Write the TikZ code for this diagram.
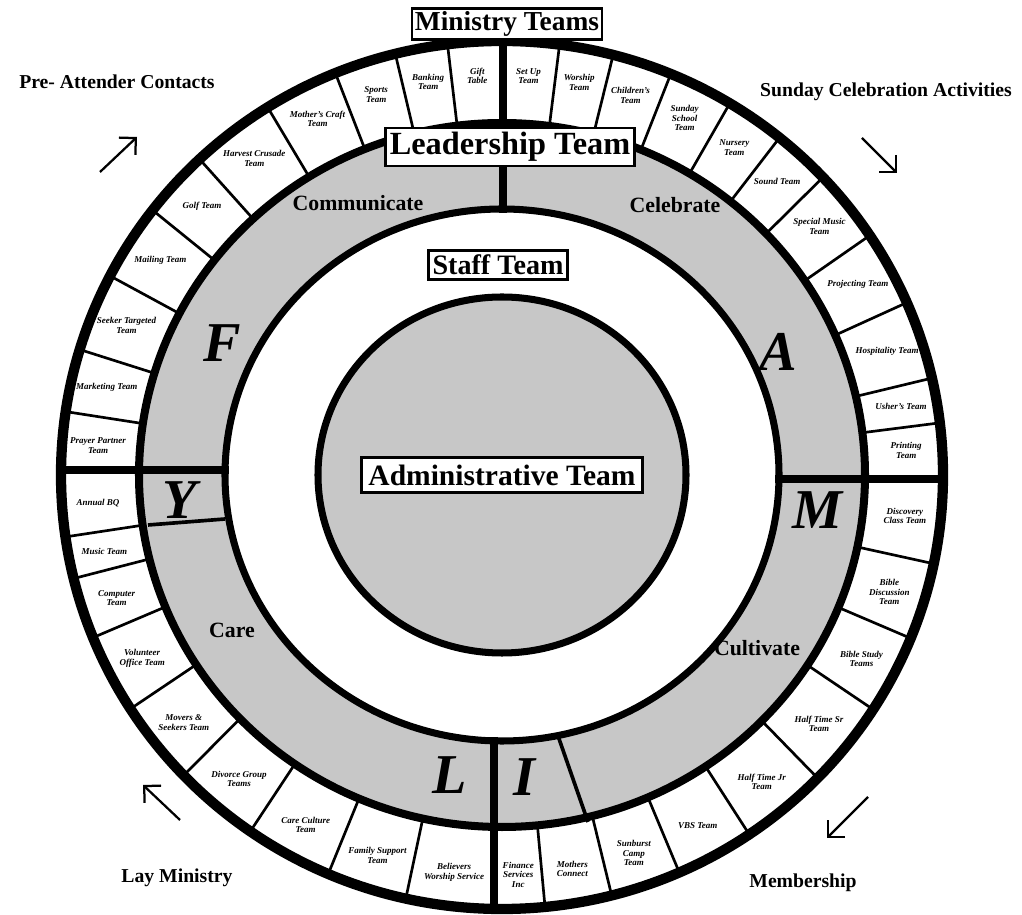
\documentclass[tikz,border=0pt]{standalone}
\usepackage{fontspec}
\setmainfont{Liberation Serif}
\usetikzlibrary{arrows.meta}

\begin{document}
\begin{tikzpicture}[x=0.025cm,y=0.025cm,
  cell/.style={line width=1.9pt},
  divider/.style={line width=5pt},
  teamlbl/.style={font=\fontsize{6.4}{6.8}\selectfont\bfseries\itshape,align=center,inner sep=0pt},
  titlebox/.style={draw,fill=white,line width=1.8pt,inner sep=2pt},
  quad/.style={font=\fontsize{15.5}{15.5}\selectfont\bfseries},
  bigletter/.style={font=\fontsize{40}{40}\selectfont\bfseries\itshape},
  corner/.style={font=\fontsize{14}{14}\selectfont\bfseries},
  cornerarrow/.style={line width=1.6pt,-{Straight Barb[angle=90:12pt]}}]
\def\cx{502}\def\cy{440}
\useasboundingbox (0,0) rectangle (1022,915);
% shaded rings
\fill[black!22] (\cx,\cy) ellipse [x radius=363,y radius=352];
\fill[white] (\cx,\cy) ellipse [x radius=277,y radius=266];
\fill[black!22] (\cx,\cy) ellipse [x radius=184,y radius=178];
% team cells
\foreach \a in {82.5,75.4,67.5,58.9,51,43.3,33.5,23.4,12.9,6.9,
  -11.8,-22.1,-32.7,-44.3,-55.9,-66.3,-75.6,-84.4,
  -102.6,-113.2,-124.8,-136.2,-147.4,-158,-166.2,-171.8,
  171.6,163.2,152.7,142.4,133.3,122.1,112.2,104,97.1}
  \draw[cell] ({\cx+363*cos(\a)},{\cy+352*sin(\a)}) -- ({\cx+441*cos(\a)},{\cy+434*sin(\a)});
% main dividers
\draw[divider] (\cx+1,\cy+262) -- (\cx+1,\cy+436);
\draw[divider] (\cx-8,\cy-262) -- (\cx-8,\cy-436);
\draw[divider] (\cx-443,\cy+5) -- (\cx-273,\cy+5);
\draw[divider] (\cx+273,\cy-4) -- (\cx+443,\cy-4);
\draw[cell,line width=2.6pt] (148,390) -- (225,396);
\draw[cell,line width=2.6pt] (557,182) -- (588,93);
% rings
\draw[line width=7.3pt] (\cx,\cy) ellipse [x radius=441,y radius=434];
\draw[line width=5.7pt] (\cx,\cy) ellipse [x radius=363,y radius=352];
\draw[line width=5pt] (\cx,\cy) ellipse [x radius=277,y radius=266];
\draw[line width=5pt] (\cx,\cy) ellipse [x radius=184,y radius=178];
% team labels
\foreach \a/\t [count=\i] in {86.25/{Set Up\\Team},79/{Worship\\Team},71.5/{Children's\\Team},
  63.2/{Sunday\\School\\Team},55/{Nursery\\Team},47.2/{Sound Team},38.4/{Special Music\\Team},
  28.5/{Projecting Team},18/{Hospitality Team},9.9/{Usher's Team},3.5/{Printing\\Team},
  -5.9/{Discovery\\Class Team},-17/{Bible\\Discussion\\Team},-27.4/{Bible Study\\Teams},
  -38.5/{Half Time Sr\\Team},-50.1/{Half Time Jr\\Team},-61.1/{VBS Team},
  -71/{Sunburst\\Camp\\Team},-80/{Mothers\\Connect},-87.7/{Finance\\Services\\Inc},
  -96.8/{Believers\\Worship Service},-107.9/{Family Support\\Team},-119/{Care Culture\\Team},
  -130.5/{Divorce Group\\Teams},-141.8/{Movers \&\\Seekers Team},-152.7/{Volunteer\\Office Team},
  -162.1/{Computer\\Team},-169/{Music Team},-175.9/{Annual BQ},
  175.8/{Prayer Partner\\Team},167.4/{Marketing Team},158/{Seeker Targeted\\Team},
  147.5/{Mailing Team},137.8/{Golf Team},127.7/{Harvest Crusade\\Team},
  117.1/{Mother's Craft\\Team},108.1/{Sports\\Team},100.5/{Banking\\Team},93.5/{Gift\\Table}}
  \node[teamlbl] (team\i) at ({\cx+405*cos(\a)},{\cy+400*sin(\a)}) {\t};
% titles
\node[titlebox,font=\fontsize{19.5}{19.5}\selectfont\bfseries] (ministry) at (507,891) {Ministry Teams};
\node[titlebox,font=\fontsize{23}{23}\selectfont\bfseries,inner sep=3pt] (leader) at (510,768) {Leadership Team};
\node[titlebox,font=\fontsize{20}{20}\selectfont\bfseries,inner sep=3pt] (staff) at (498,650) {Staff Team};
\node[titlebox,font=\fontsize{21}{21}\selectfont\bfseries,inner sep=5pt] (admin) at (502,440) {Administrative Team};
% quadrants
\node[quad] (communicate) at (358,712) {Communicate};
\node[quad] (celebrate) at (675,710) {Celebrate};
\node[quad] (care) at (232,285) {Care};
\node[quad] (cultivate) at (757,267) {Cultivate};
% F A M I L Y
\node[bigletter] (letF) at (222,572) {F};
\node[bigletter] (letA) at (778,563) {A};
\node[bigletter] (letM) at (818,405) {M};
\node[bigletter] (letI) at (524,138) {I};
\node[bigletter] (letL) at (450,140) {L};
\node[bigletter] (letY) at (180,415) {Y};
% corners
\node[corner] (preatt) at (117,833) {Pre- Attender Contacts};
\node[corner] (sunday) at (886,823) {Sunday Celebration Activities};
\node[corner] (lay) at (177,37) {Lay Ministry};
\node[corner] (member) at (803,32) {Membership};
\coordinate (ulA) at (100,743); \coordinate (ulB) at (137,778);
\coordinate (urA) at (862,777); \coordinate (urB) at (897,742);
\coordinate (lrA) at (868,118); \coordinate (lrB) at (827,77);
\coordinate (llA) at (180,95);  \coordinate (llB) at (143,130);
\draw[cornerarrow] (ulA) -- (ulB);
\draw[cornerarrow] (urA) -- (urB);
\draw[cornerarrow] (lrA) -- (lrB);
\draw[cornerarrow] (llA) -- (llB);
\end{tikzpicture}
\end{document}
